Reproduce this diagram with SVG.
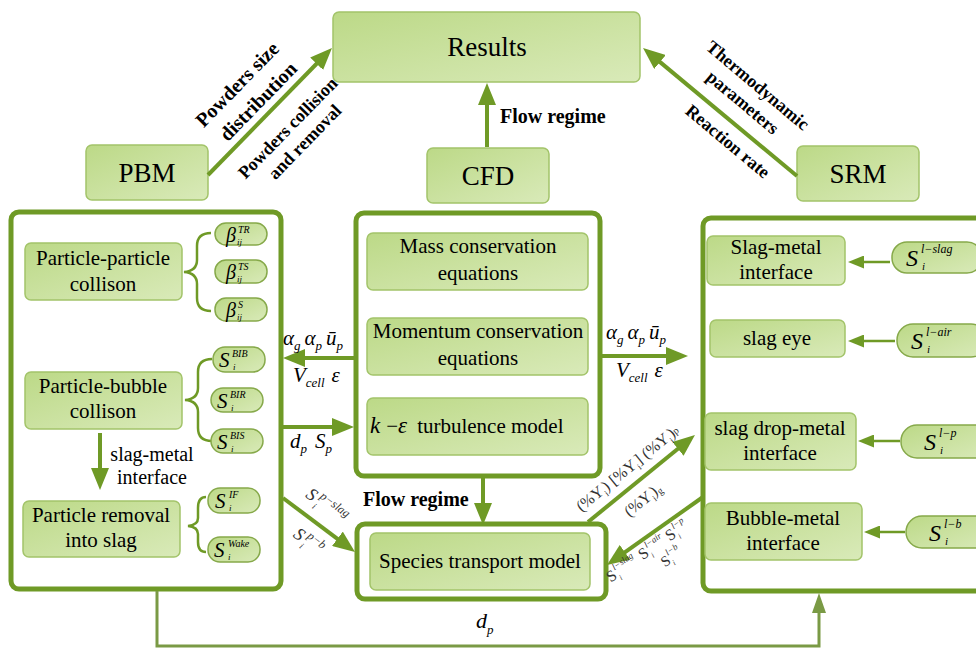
<svg xmlns="http://www.w3.org/2000/svg" width="976" height="648" viewBox="0 0 976 648" font-family="'Liberation Serif','Times New Roman',serif">
<defs>
<linearGradient id="g" x1="0" y1="0" x2="1" y2="1">
<stop offset="0" stop-color="#bcd987"/>
<stop offset="1" stop-color="#d9eab9"/>
</linearGradient>
<marker id="ah" markerUnits="userSpaceOnUse" markerWidth="22" markerHeight="18" viewBox="0 0 22 18" refX="8" refY="9" orient="auto">
<path d="M0,0 L22,9 L0,18 z" fill="#6f9a26"/>
</marker>
<marker id="ahs" markerUnits="userSpaceOnUse" markerWidth="16" markerHeight="13" viewBox="0 0 16 13" refX="6" refY="6.5" orient="auto">
<path d="M0,0 L16,6.5 L0,13 z" fill="#6f9a26"/>
</marker>
<marker id="ahb" markerUnits="userSpaceOnUse" markerWidth="20" markerHeight="14" viewBox="0 0 20 14" refX="7" refY="7" orient="auto">
<path d="M0,0 L20,7 L0,14 z" fill="#7a9a45"/>
</marker>
</defs>
<style>
.box{fill:url(#g);stroke:#a3c46a;stroke-width:1.5}
.pill{fill:url(#g);stroke:#86a94a;stroke-width:1.5}
.cont{fill:#fff;stroke:#6f9a26;stroke-width:5}
.arr{stroke:#6f9a26;stroke-width:4;fill:none;marker-end:url(#ah)}
.arrs{stroke:#6f9a26;stroke-width:2.5;fill:none;marker-end:url(#ahs)}
.brace{stroke:#6f9a26;stroke-width:2.5;fill:none}
text{font-family:"Liberation Serif","Times New Roman",serif;fill:#000}
.c{text-anchor:middle}
.bt{font-size:21px}
.big{font-size:27px}
.bold{font-weight:bold}
.mi{font-style:italic}
.sm{fill:#333}
</style>

<!-- top nodes -->
<g id="results"><rect class="box" x="333" y="12" width="307" height="70" rx="6"/><text class="c big" x="487" y="56">Results</text></g>
<g id="pbm"><rect class="box" x="86" y="145" width="122" height="55" rx="6"/><text class="c big" x="147" y="182">PBM</text></g>
<g id="cfd"><rect class="box" x="427" y="148" width="122" height="55" rx="6"/><text class="c big" x="488" y="185">CFD</text></g>
<g id="srm"><rect class="box" x="797" y="146" width="122" height="55" rx="6"/><text class="c big" x="858" y="183">SRM</text></g>

<!-- containers -->
<g id="pbm-container"><rect class="cont" x="11" y="212" width="270" height="377" rx="8"/></g>
<g id="cfd-container"><rect class="cont" x="356" y="213" width="244" height="263" rx="8"/></g>
<g id="species-container"><rect class="cont" x="357" y="524" width="249" height="75" rx="8"/></g>
<g id="srm-container"><rect class="cont" x="703" y="218" width="300" height="373" rx="8"/></g>

<!-- PBM contents -->
<g id="pp"><rect class="box" x="25" y="243" width="157" height="57" rx="6"/><text class="c bt" x="103" y="265">Particle-particle</text><text class="c bt" x="103" y="291">collison</text></g>
<g id="pb"><rect class="box" x="25" y="372" width="157" height="57" rx="6"/><text class="c bt" x="103" y="393">Particle-bubble</text><text class="c bt" x="103" y="418">collison</text></g>
<g id="pr"><rect class="box" x="23" y="501" width="157" height="56" rx="6"/><text class="c bt" x="101" y="522">Particle removal</text><text class="c bt" x="101" y="547">into slag</text></g>

<g id="braces">
<path class="brace" d="M211,233 Q197,233 197,246 L197,260 Q197,271 184,272 Q197,273 197,284 L197,298 Q197,311 211,311"/>
<path class="brace" d="M212,359 Q198,359 198,372 L198,388 Q198,399 185,400 Q198,401 198,412 L198,428 Q198,441 212,441"/>
<path class="brace" d="M206,497 Q198,497 198,508 L198,518 Q198,525 188,526 Q198,527 198,534 L198,542 Q198,552 206,552"/>
</g>

<g id="beta-tr"><rect class="pill" x="215" y="223" width="52" height="22" rx="11"/><text class="mi" x="226" y="242" font-size="20">β</text><text class="mi" x="238" y="233" font-size="10">TR</text><text class="mi" x="237" y="245" font-size="9">ij</text></g>
<g id="beta-ts"><rect class="pill" x="215" y="260" width="52" height="23" rx="11"/><text class="mi" x="226" y="279" font-size="20">β</text><text class="mi" x="238" y="270" font-size="10">TS</text><text class="mi" x="237" y="282" font-size="9">ij</text></g>
<g id="beta-s"><rect class="pill" x="215" y="298" width="52" height="23" rx="11"/><text class="mi" x="226" y="317" font-size="20">β</text><text class="mi" x="238" y="308" font-size="10">S</text><text class="mi" x="237" y="320" font-size="9">ij</text></g>

<g id="s-bib"><rect class="pill" x="213" y="347" width="52" height="25" rx="12"/><text class="mi" x="219" y="367" font-size="21">S</text><text class="mi" x="233" y="370" font-size="9">i</text><text class="mi" x="232" y="357" font-size="10">BIB</text></g>
<g id="s-bir"><rect class="pill" x="211" y="388" width="52" height="24" rx="12"/><text class="mi" x="217" y="408" font-size="21">S</text><text class="mi" x="231" y="411" font-size="9">i</text><text class="mi" x="230" y="398" font-size="10">BIR</text></g>
<g id="s-bis"><rect class="pill" x="211" y="429" width="52" height="24" rx="12"/><text class="mi" x="217" y="449" font-size="21">S</text><text class="mi" x="231" y="452" font-size="9">i</text><text class="mi" x="230" y="439" font-size="10">BIS</text></g>
<g id="s-if"><rect class="pill" x="208" y="488" width="52" height="25" rx="12"/><text class="mi" x="215" y="508" font-size="21">S</text><text class="mi" x="229" y="511" font-size="9">i</text><text class="mi" x="229" y="498" font-size="10">IF</text></g>
<g id="s-wake"><rect class="pill" x="208" y="537" width="52" height="25" rx="12"/><text class="mi" x="214" y="557" font-size="21">S</text><text class="mi" x="228" y="560" font-size="9">i</text><text class="mi" x="228" y="547" font-size="10">Wake</text></g>

<!-- CFD contents -->
<g id="mass"><rect class="box" x="367" y="233" width="221" height="57" rx="6"/><text class="c bt" x="478" y="253">Mass conservation</text><text class="c bt" x="478" y="280">equations</text></g>
<g id="momentum"><rect class="box" x="367" y="318" width="221" height="57" rx="6"/><text class="c bt" x="478" y="338">Momentum conservation</text><text class="c bt" x="478" y="365">equations</text></g>
<g id="keps"><rect class="box" x="367" y="398" width="221" height="57" rx="6"/><text class="bt" x="370" y="433"><tspan class="mi" font-size="23">k</tspan><tspan dx="6">−</tspan><tspan class="mi" font-size="23">ε</tspan><tspan dx="10">turbulence model</tspan></text></g>

<!-- species -->
<g id="species"><rect class="box" x="370" y="533" width="220" height="57" rx="6"/><text class="c bt" x="480" y="568">Species transport model</text></g>

<!-- SRM contents -->
<g id="slag-metal"><rect class="box" x="707" y="236" width="138" height="49" rx="6"/><text class="c bt" x="776" y="254">Slag-metal</text><text class="c bt" x="776" y="279">interface</text></g>
<g id="slag-eye"><rect class="box" x="710" y="320" width="135" height="37" rx="6"/><text class="c bt" x="777" y="345">slag eye</text></g>
<g id="slag-drop"><rect class="box" x="705" y="413" width="151" height="57" rx="6"/><text class="c bt" x="780" y="435">slag drop-metal</text><text class="c bt" x="780" y="460">interface</text></g>
<g id="bubble-metal"><rect class="box" x="705" y="503" width="157" height="57" rx="6"/><text class="c bt" x="783" y="525">Bubble-metal</text><text class="c bt" x="783" y="550">interface</text></g>

<g id="s-lslag"><rect class="pill" x="892" y="242" width="90" height="31" rx="15"/><text class="mi" x="906" y="266" font-size="24">S</text><text class="mi" x="922" y="270" font-size="11">i</text><text class="mi" x="921" y="253" font-size="12">l−slag</text></g>
<g id="s-lair"><rect class="pill" x="897" y="324" width="90" height="33" rx="16"/><text class="mi" x="911" y="349" font-size="24">S</text><text class="mi" x="927" y="353" font-size="11">i</text><text class="mi" x="926" y="336" font-size="12">l−air</text></g>
<g id="s-lp"><rect class="pill" x="901" y="425" width="90" height="33" rx="16"/><text class="mi" x="924" y="450" font-size="24">S</text><text class="mi" x="940" y="454" font-size="11">i</text><text class="mi" x="939" y="437" font-size="12">l−p</text></g>
<g id="s-lb"><rect class="pill" x="906" y="516" width="90" height="32" rx="16"/><text class="mi" x="929" y="541" font-size="24">S</text><text class="mi" x="945" y="545" font-size="11">i</text><text class="mi" x="944" y="528" font-size="12">l−b</text></g>

<!-- connectors -->
<g id="connectors">
<line class="arr" x1="208" y1="175" x2="322.2" y2="58"/>
<line class="arr" x1="797" y1="176" x2="653.8" y2="56.9"/>
<line class="arr" x1="487" y1="147" x2="487" y2="97"/>
<line class="arr" x1="355" y1="358" x2="297" y2="358"/>
<line class="arr" x1="600" y1="356" x2="674" y2="356"/>
<line class="arr" x1="283" y1="427" x2="340" y2="427"/>
<line class="arr" x1="283" y1="498" x2="343.8" y2="543.6"/>
<line class="arr" x1="483" y1="477" x2="483" y2="511"/>
<line class="arr" x1="588" y1="522" x2="684.1" y2="443.8"/>
<line class="arr" x1="703" y1="497" x2="618.4" y2="556.9"/>
<line class="arr" x1="100" y1="433" x2="100" y2="476"/>
<line class="arrs" x1="890" y1="262" x2="858" y2="262"/>
<line class="arrs" x1="895" y1="341" x2="858" y2="341"/>
<line class="arrs" x1="900" y1="441" x2="868" y2="441"/>
<line class="arrs" x1="905" y1="532" x2="874" y2="532"/>
<polyline points="157,591 157,646 819,646 819,606" fill="none" stroke="#7a9a45" stroke-width="3" marker-end="url(#ahb)"/>
</g>

<!-- labels -->
<g id="labels">
<text class="bold c" font-size="20" transform="translate(242,89) rotate(-45.7)">Powders size</text>
<text class="bold c" font-size="20" transform="translate(263,106) rotate(-45.7)">distribution</text>
<text class="bold c" font-size="18" transform="translate(292,132) rotate(-45.7)">Powders collision</text>
<text class="bold c" font-size="18" transform="translate(309,146) rotate(-45.7)">and removal</text>
<text class="bold c" font-size="18" transform="translate(754,90) rotate(40)">Thermodynamic</text>
<text class="bold c" font-size="18" transform="translate(739,107) rotate(40)">parameters</text>
<text class="bold c" font-size="18" transform="translate(724,146) rotate(40)">Reaction rate</text>
<text class="bold" font-size="20" x="500" y="123">Flow regime</text>
<text class="bold" font-size="20" x="363" y="506">Flow regime</text>
<text class="mi" x="283" y="345" font-size="21">α<tspan font-size="13" dy="5">g</tspan><tspan dy="-5" dx="4">α</tspan><tspan font-size="13" dy="5">p</tspan><tspan dy="-5" dx="4">ū</tspan><tspan font-size="13" dy="5">p</tspan></text>
<text class="mi" x="293" y="382" font-size="21">V<tspan font-size="13" dy="5">cell</tspan><tspan dy="-5" dx="7">ε</tspan></text>
<text class="mi" x="606" y="339" font-size="21">α<tspan font-size="13" dy="5">g</tspan><tspan dy="-5" dx="4">α</tspan><tspan font-size="13" dy="5">p</tspan><tspan dy="-5" dx="4">ū</tspan><tspan font-size="13" dy="5">p</tspan></text>
<text class="mi" x="616" y="377" font-size="21">V<tspan font-size="13" dy="5">cell</tspan><tspan dy="-5" dx="7">ε</tspan></text>
<text class="mi" x="290" y="448" font-size="21">d<tspan font-size="13" dy="5">p</tspan><tspan dy="-5" dx="8">S</tspan><tspan font-size="13" dy="5">p</tspan></text>
<text class="mi" x="476" y="628" font-size="22">d<tspan font-size="13" dy="6">p</tspan></text>
<g transform="translate(326,505) rotate(37)"><text class="mi sm" x="-22" y="6" font-size="18">S</text><text class="mi sm" x="-10" y="11" font-size="9">i</text><text class="mi sm" x="-10" y="-2" font-size="12">p−slag</text></g>
<g transform="translate(307,540) rotate(37)"><text class="mi sm" x="-14" y="6" font-size="18">S</text><text class="mi sm" x="-2" y="11" font-size="9">i</text><text class="mi sm" x="-2" y="-2" font-size="12">p−b</text></g>
<text class="sm c" font-size="16" transform="translate(629,470) rotate(-39)"><tspan x="0" y="3">(%Y</tspan><tspan font-size="9" dy="4">i</tspan><tspan dy="-4">) [%Y</tspan><tspan font-size="9" dy="4">i</tspan><tspan dy="-4">] (%Y</tspan><tspan font-size="9" dy="4">i</tspan><tspan dy="-4">)</tspan><tspan font-size="10" dy="-1">p</tspan></text>
<text class="sm c" font-size="16" transform="translate(643,500) rotate(-39)"><tspan x="0" y="5">(%Y</tspan><tspan font-size="9" dy="4">i</tspan><tspan dy="-4">)</tspan><tspan font-size="10" dy="2">g</tspan></text>
<g transform="translate(650,548) rotate(-35)">
<text class="sm" x="-52" y="6" font-size="16">S</text><text class="mi sm" x="-42" y="10" font-size="8">i</text><text class="mi sm" x="-42" y="-2" font-size="9">l−slag</text>
<text class="sm" x="-13" y="6" font-size="16">S</text><text class="mi sm" x="-3" y="10" font-size="8">i</text><text class="mi sm" x="-3" y="-2" font-size="9">l−air</text>
<text class="sm" x="20" y="6" font-size="16">S</text><text class="mi sm" x="30" y="10" font-size="8">i</text><text class="mi sm" x="30" y="-2" font-size="9">l−p</text>
</g>
<g transform="translate(668,558) rotate(-35)"><text class="sm" x="-8" y="6" font-size="15">S</text><text class="mi sm" x="1" y="10" font-size="8">i</text><text class="mi sm" x="1" y="-2" font-size="9">l−b</text></g>
<text font-size="20" class="c" x="152" y="461">slag-metal</text>
<text font-size="20" class="c" x="152" y="484">interface</text>
</g>
</svg>
